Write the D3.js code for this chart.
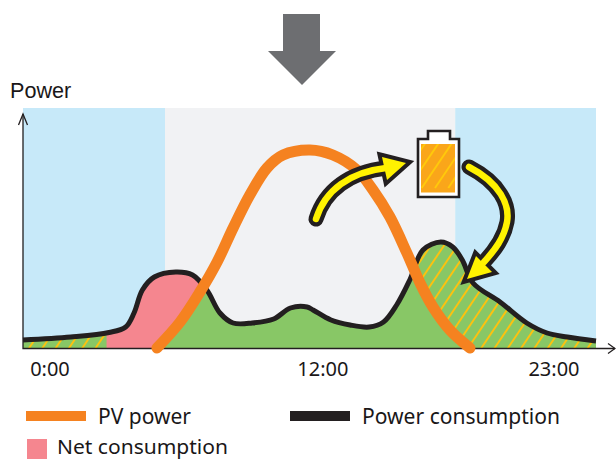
<!DOCTYPE html>
<html><head><meta charset="utf-8">
<script src="https://cdnjs.cloudflare.com/ajax/libs/d3/7.8.5/d3.min.js"></script>
<style>html,body{margin:0;padding:0;background:#fff}svg{display:block}text{fill:#1a1718}</style>
</head><body><svg id="c" width="616" height="460"></svg>
<script>
const consHours=[0,2,3.6,4.3,4.65,5,5.5,6.4,7.1,7.7,8.25,8.8,9.6,10.5,11.2,11.9,12.15,12.9,13.7,14.5,15.1,15.65,16.2,16.75,17.5,18,18.4,18.85,19.98,21.1,21.95,22.8,24];
const consPower=[8,11,15.5,21,35,58,71,76,73,58,35,25,25,29,40,41,38,28,23,21,26,43,68,98,106,101,88,65,46,25,15,11,7];
const pvHours=[5.61,6.58,7.41,8.13,8.8,9.5,10.22,10.89,12.02,12.98,13.99,14.66,15.37,16.08,16.63,17.17,17.88,18.72];
const pvPower=[0,26,56,86,120,153,180,193,198,193,178,158,131,95,65,41,18,0];
const tickLabels=["0:00","12:00","23:00"];
const tickCenters=[1.13,12.56,22.24];
const legendLabels=["PV power","Power consumption","Net consumption"];
const nightSpans=[[0,5.95],[18.1,24]];
const daySpan=[5.95,18.1];
const netSpan=[3.5,8.5];
const hatchSpans=[[0,3.5],[15,24]];

const svg=d3.select("#c");
const x=d3.scaleLinear().domain([0,24]).range([23,596]);
const y=d3.scaleLinear().domain([0,240]).range([348,108]);
const C={blue:"#c7e9f9",gray:"#f1f2f4",green:"#88c766",pink:"#f5868f",orange:"#f58220",black:"#231f20",hatch:"#fdc20f",yellow:"#fff200",arrow:"#6d6e71"};
const MY='"Noto Sans",sans-serif';
const consData=d3.zip(consHours,consPower), pvData=d3.zip(pvHours,pvPower);
const curve=d3.curveCatmullRom.alpha(0.5);
const line=d3.line().x(d=>x(d[0])).y(d=>y(d[1])).curve(curve);
const area=d3.area().x(d=>x(d[0])).y0(y(0)).y1(d=>y(d[1])).curve(curve);

const defs=svg.append("defs");
defs.append("clipPath").attr("id","under").append("path").attr("d",area(consData));
defs.append("clipPath").attr("id","spans").selectAll("rect").data(hatchSpans).join("rect")
  .attr("x",d=>x(d[0])).attr("width",d=>x(d[1])-x(d[0])).attr("y",y(240)).attr("height",240);
defs.append("clipPath").attr("id","batt").append("rect").attr("x",421).attr("y",144).attr("width",34).attr("height",48.5);

function stripes(g,x0,yBase,h,from,to,color,w){
  const step=13.3, rise=Math.tan(34*Math.PI/180);
  g.selectAll("line").data(d3.range(from,to)).join("line")
    .attr("x1",k=>x0+k*step).attr("y1",yBase)
    .attr("x2",k=>x0+k*step+h*rise).attr("y2",yBase-h)
    .attr("stroke",color).attr("stroke-width",w);
}

// top arrow
svg.append("path").attr("fill",C.arrow).attr("d",d3.line()([[283,14],[320,14],[320,51],[336,51],[302,85],[268,51],[283,51]])+"Z");

// background bands
svg.selectAll(".night").data(nightSpans).join("rect").attr("x",d=>x(d[0])).attr("width",d=>x(d[1])-x(d[0]))
  .attr("y",y(240)).attr("height",y(0)-y(240)).attr("fill",C.blue);
svg.append("rect").attr("x",x(daySpan[0])).attr("width",x(daySpan[1])-x(daySpan[0])).attr("y",y(240)).attr("height",y(0)-y(240)).attr("fill",C.gray);

// fills
const fills=svg.append("g").attr("clip-path","url(#under)");
fills.append("rect").attr("x",x(0)).attr("width",x(24)-x(0)).attr("y",y(240)).attr("height",240).attr("fill",C.green);
fills.append("rect").attr("x",x(netSpan[0])).attr("width",x(netSpan[1])-x(netSpan[0])).attr("y",y(240)).attr("height",240).attr("fill",C.pink);
stripes(fills.append("g").attr("clip-path","url(#spans)"),480,350,160,-36,10,C.hatch,1.9);
fills.append("path").attr("d",area(pvData)).attr("fill",C.green);

// axes
const axisColor="#231f20";
svg.append("path").attr("fill","none").attr("stroke",axisColor).attr("stroke-width",1.3)
  .attr("d","M23,114V348.5H615");
svg.append("path").attr("fill","none").attr("stroke",axisColor).attr("stroke-width",1.3)
  .attr("d","M18.5,125L23,114L27.5,125M608,343.5L615,348.5L608,353.5");

// lines
svg.append("path").attr("d",line(consData)).attr("fill","none").attr("stroke",C.black).attr("stroke-width",5).attr("stroke-linejoin","round");
svg.append("path").attr("d",line(pvData)).attr("fill","none").attr("stroke",C.orange).attr("stroke-width",11).attr("stroke-linecap","round");

// battery
svg.append("path").attr("d","M418,197V139H428V131H450V139H459V197Z").attr("fill","#fff").attr("stroke",C.black).attr("stroke-width",2.6);
svg.append("rect").attr("x",421).attr("y",144).attr("width",34).attr("height",48.5).attr("fill","#faa61a");
stripes(svg.append("g").attr("clip-path","url(#batt)"),421.7,188,60,-4,4,"#ffc90b",1.9);

// flow arrows
function flow(d,head){
  svg.append("path").attr("d",d).attr("fill","none").attr("stroke",C.black).attr("stroke-width",15).attr("stroke-linecap","round");
  svg.append("path").attr("d",head).attr("fill",C.black).attr("stroke",C.black).attr("stroke-width",8).attr("stroke-linejoin","miter");
  svg.append("path").attr("d",d).attr("fill","none").attr("stroke",C.yellow).attr("stroke-width",6.5).attr("stroke-linecap","round");
  svg.append("path").attr("d",head).attr("fill",C.yellow);
}
flow("M316,219C325,190 350,172 386,168","M382,157L406,163L387,180Z");
flow("M469,167C500,183 510,205 507,222C504,238 495,250 484,262","M476,256L467,279L492,272Z");

// tick labels
svg.selectAll(".tick").data(tickLabels).join("text").attr("x",(d,i)=>x(tickCenters[i])).attr("y",376)
  .attr("text-anchor","middle").attr("font-family",MY).attr("font-size",20).text(d=>d);
svg.append("text").attr("x",10).attr("y",98).attr("font-family",'"Liberation Sans",sans-serif').attr("font-size",21.6).text("Power");

// legend
svg.append("rect").attr("x",26).attr("y",411).attr("width",60).attr("height",10).attr("fill",C.orange);
svg.append("rect").attr("x",290).attr("y",411).attr("width",60).attr("height",10).attr("fill",C.black);
svg.append("rect").attr("x",27).attr("y",439).attr("width",20).attr("height",20).attr("fill",C.pink);
const lg=[[98,423.5,93,22],[362,423.5,198,22],[57,454,171,20]];
svg.selectAll(".lg").data(legendLabels).join("text").attr("x",(d,i)=>lg[i][0]).attr("y",(d,i)=>lg[i][1])
  .attr("font-family",MY).attr("font-size",(d,i)=>lg[i][3]).attr("textLength",(d,i)=>lg[i][2]).attr("lengthAdjust","spacingAndGlyphs").text(d=>d);
</script></body></html>
